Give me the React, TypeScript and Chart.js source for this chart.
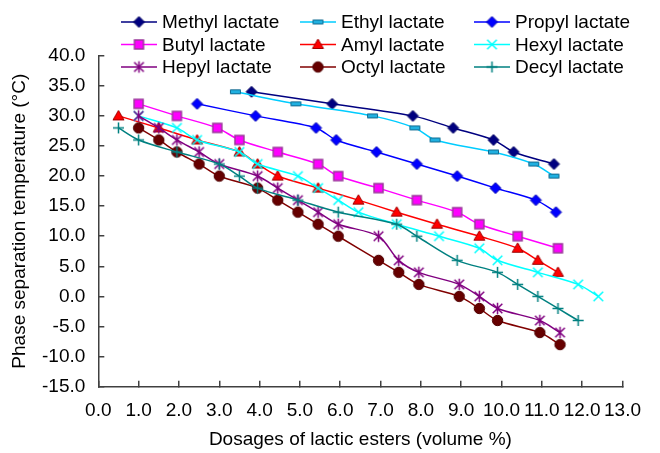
import React, { useEffect, useRef } from 'react';
import { Chart, registerables } from 'chart.js';

Chart.register(...registerables);

const FONT = '"Liberation Sans", Arial, sans-serif';

const seriesNames = [
  'Methyl lactate', 'Ethyl lactate', 'Propyl lactate',
  'Butyl lactate', 'Amyl lactate', 'Hexyl lactate',
  'Hepyl lactate', 'Octyl lactate', 'Decyl lactate',
];

const methylX = [3.8, 5.8, 7.8, 8.8, 9.8, 10.3, 11.3];
const methylY = [34, 32, 30, 28, 26, 24, 22];

const ethylX = [3.4, 4.9, 6.8, 7.85, 8.35, 9.8, 10.8, 11.3];
const ethylY = [34, 32, 30, 28, 26, 24, 22, 20];

const propylX = [2.45, 3.9, 5.4, 5.9, 6.9, 7.9, 8.9, 9.85, 10.85, 11.35];
const propylY = [32, 30, 28, 26, 24, 22, 20, 18, 16, 14];

const butylX = [1.0, 1.95, 2.95, 3.5, 4.45, 5.45, 5.95, 6.95, 7.9, 8.9, 9.45, 10.4, 11.4];
const butylY = [32, 30, 28, 26, 24, 22, 20, 18, 16, 14, 12, 10, 8];

const amylX = [0.5, 1.5, 2.45, 3.5, 3.95, 4.45, 5.45, 6.45, 7.4, 8.4, 9.45, 10.4, 10.9, 11.4];
const amylY = [30, 28, 26, 24, 22, 20, 18, 16, 14, 12, 10, 8, 6, 4];

const hexylX = [1.0, 1.95, 2.45, 3.5, 3.95, 4.95, 5.45, 5.95, 6.45, 7.4, 8.45, 9.45, 9.9, 10.9, 11.9, 12.4];
const hexylY = [30, 28, 26, 24, 22, 20, 18, 16, 14, 12, 10, 8, 6, 4, 2, 0];

const hepylX = [1.0, 1.5, 1.95, 2.5, 3.0, 3.95, 4.45, 4.95, 5.45, 5.95, 6.95, 7.45, 7.95, 8.95, 9.45, 9.9, 10.95, 11.45];
const hepylY = [30, 28, 26, 24, 22, 20, 18, 16, 14, 12, 10, 6, 4, 2, 0, -2, -4, -6];

const octylX = [1.0, 1.5, 1.95, 2.5, 3.0, 3.95, 4.45, 4.95, 5.45, 5.95, 6.95, 7.45, 7.95, 8.95, 9.45, 9.9, 10.95, 11.45];
const octylY = [28, 26, 24, 22, 20, 18, 16, 14, 12, 10, 6, 4, 2, 0, -2, -4, -6, -8];

const decylX = [0.5, 1.0, 1.95, 3.0, 3.5, 3.95, 4.95, 5.95, 7.4, 7.9, 8.9, 9.9, 10.4, 10.9, 11.4, 11.9];
const decylY = [28, 26, 24, 22, 20, 18, 16, 14, 12, 10, 6, 4, 2, 0, -2, -4];

const xTicks = [0, 1, 2, 3, 4, 5, 6, 7, 8, 9, 10, 11, 12, 13];
const yTicks = [-15, -10, -5, 0, 5, 10, 15, 20, 25, 30, 35, 40];

const xSeries = [methylX, ethylX, propylX, butylX, amylX, hexylX, hepylX, octylX, decylX];
const ySeries = [methylY, ethylY, propylY, butylY, amylY, hexylY, hepylY, octylY, decylY];

type Style = { line: string; kind: string; fill: string; stroke: string };
const styles: Style[] = [
  { line: '#000080', kind: 'diamond', fill: '#000080', stroke: '#000060' },
  { line: '#00ccff', kind: 'dash', fill: '#20b0e0', stroke: '#106a90' },
  { line: '#0000ff', kind: 'diamond', fill: '#0000ff', stroke: '#0000b0' },
  { line: '#ff00ff', kind: 'square', fill: '#ff00ff', stroke: '#9a3a9a' },
  { line: '#ff0000', kind: 'triangle', fill: '#ff0000', stroke: '#a00000' },
  { line: '#00ffff', kind: 'x', fill: '#00ffff', stroke: '#00ffff' },
  { line: '#800080', kind: 'star', fill: '#800080', stroke: '#800080' },
  { line: '#800000', kind: 'circle', fill: '#660000', stroke: '#500000' },
  { line: '#008080', kind: 'plus', fill: '#008080', stroke: '#008080' },
];

function makeMarker(kind: string, fill: string, stroke: string): HTMLCanvasElement {
  const c = document.createElement('canvas');
  const w = kind === 'dash' ? 13 : 15;
  const h = kind === 'dash' ? 7 : 15;
  c.width = w;
  c.height = h;
  const ctx = c.getContext('2d')!;
  const cx = w / 2;
  const cy = h / 2;
  ctx.fillStyle = fill;
  ctx.strokeStyle = stroke;
  ctx.lineWidth = 1;
  ctx.beginPath();
  if (kind === 'diamond') {
    const r = 5.5;
    ctx.moveTo(cx, cy - r);
    ctx.lineTo(cx + r, cy);
    ctx.lineTo(cx, cy + r);
    ctx.lineTo(cx - r, cy);
    ctx.closePath();
    ctx.fill();
    ctx.stroke();
  } else if (kind === 'dash') {
    ctx.rect(1.5, 1.5, w - 3, h - 3);
    ctx.fill();
    ctx.stroke();
  } else if (kind === 'square') {
    ctx.rect(cx - 4.5, cy - 4.5, 9, 9);
    ctx.fill();
    ctx.lineWidth = 1.5;
    ctx.stroke();
  } else if (kind === 'triangle') {
    ctx.moveTo(cx, cy - 5.5);
    ctx.lineTo(cx + 5.5, cy + 4);
    ctx.lineTo(cx - 5.5, cy + 4);
    ctx.closePath();
    ctx.fill();
    ctx.stroke();
  } else if (kind === 'circle') {
    ctx.arc(cx, cy, 5.2, 0, Math.PI * 2);
    ctx.fill();
    ctx.stroke();
  } else if (kind === 'x' || kind === 'star' || kind === 'plus') {
    ctx.lineWidth = 1.5;
    const r = 4.8;
    if (kind !== 'plus') {
      ctx.moveTo(cx - r, cy - r);
      ctx.lineTo(cx + r, cy + r);
      ctx.moveTo(cx + r, cy - r);
      ctx.lineTo(cx - r, cy + r);
    }
    if (kind === 'star') {
      ctx.moveTo(cx, cy - r - 1);
      ctx.lineTo(cx, cy + r + 1);
    }
    if (kind === 'plus') {
      ctx.moveTo(cx - 5.5, cy);
      ctx.lineTo(cx + 5.5, cy);
      ctx.moveTo(cx, cy - 5.5);
      ctx.lineTo(cx, cy + 5.5);
    }
    ctx.stroke();
  }
  return c;
}

export default function App() {
  const ref = useRef<HTMLCanvasElement>(null);

  useEffect(() => {
    document.body.style.margin = '0';
    const markers = styles.map((s) => makeMarker(s.kind, s.fill, s.stroke));

    const datasets = seriesNames.map((name, i) => ({
      label: name,
      data: xSeries[i].map((x, j) => ({ x, y: ySeries[i][j] })),
      showLine: true,
      borderColor: styles[i].line,
      backgroundColor: styles[i].fill,
      borderWidth: 1.5,
      tension: 0.3,
      pointStyle: markers[i] as any,
      pointRadius: 5,
      pointHoverRadius: 5,
      order: 9 - i,
      clip: false as any,
    }));

    const legendCols = [121, 300, 474];
    const legendRows = [22, 44.5, 67];
    const legendPlugin = {
      id: 'gridLegend',
      afterDraw(chart: any) {
        const ctx = chart.ctx as CanvasRenderingContext2D;
        ctx.save();
        seriesNames.forEach((name, i) => {
          const x0 = legendCols[i % 3];
          const y = legendRows[Math.floor(i / 3)];
          const len = 36;
          ctx.strokeStyle = styles[i].line;
          ctx.lineWidth = 1.5;
          ctx.beginPath();
          ctx.moveTo(x0, y);
          ctx.lineTo(x0 + len, y);
          ctx.stroke();
          const m = markers[i];
          ctx.drawImage(m, x0 + len / 2 - m.width / 2, y - m.height / 2);
          ctx.fillStyle = '#000';
          ctx.font = `19px ${FONT}`;
          ctx.textBaseline = 'middle';
          ctx.textAlign = 'left';
          ctx.fillText(name, x0 + len + 5, y + 1);
        });
        ctx.restore();
      },
    };

    const chart = new Chart(ref.current!, {
      type: 'scatter',
      data: { datasets: datasets as any },
      options: {
        responsive: false,
        animation: false,
        layout: { padding: { top: 55.7, right: 24.3, bottom: 0, left: 0 } },
        plugins: { legend: { display: false }, tooltip: { enabled: false } },
        scales: {
          x: {
            type: 'linear',
            min: xTicks[0],
            max: xTicks[xTicks.length - 1],
            afterBuildTicks: (scale: any) => {
              scale.ticks = xTicks.map((v) => ({ value: v }));
            },
            afterFit: (scale: any) => {
              scale.height = 66.3;
            },
            ticks: {
              color: '#000',
              font: { family: FONT, size: 19 },
              padding: 19,
              maxRotation: 0,
              autoSkip: false,
              callback: (v: any) => Number(v).toFixed(1),
            },
            grid: {
              drawOnChartArea: false,
              drawTicks: true,
              tickLength: -6,
              color: '#404040',
              lineWidth: 1.5,
            },
            border: { display: true, color: '#404040', width: 1.5 },
            title: {
              display: true,
              text: 'Dosages of lactic esters (volume %)',
              color: '#000',
              font: { family: FONT, size: 19 },
              padding: { top: 0, bottom: 2 },
            },
          },
          y: {
            type: 'linear',
            min: yTicks[0],
            max: yTicks[yTicks.length - 1],
            afterBuildTicks: (scale: any) => {
              scale.ticks = yTicks.map((v) => ({ value: v }));
            },
            afterFit: (scale: any) => {
              scale.width = 98.3;
            },
            ticks: {
              color: '#000',
              font: { family: FONT, size: 19 },
              padding: 19,
              autoSkip: false,
              callback: (v: any) => Number(v).toFixed(1),
            },
            grid: {
              drawOnChartArea: false,
              drawTicks: true,
              tickLength: -6,
              color: '#404040',
              lineWidth: 1.5,
            },
            border: { display: true, color: '#404040', width: 1.5 },
            title: {
              display: true,
              text: 'Phase separation temperature (°C)',
              color: '#000',
              font: { family: FONT, size: 19 },
              padding: { top: 8.6, bottom: 0 },
            },
          },
        },
      },
      plugins: [legendPlugin],
    });

    return () => chart.destroy();
  }, []);

  return (
    <div style={{ width: 660, height: 453, position: 'relative' }}>
      <canvas ref={ref} width={660} height={453} style={{ display: 'block' }} />
    </div>
  );
}
